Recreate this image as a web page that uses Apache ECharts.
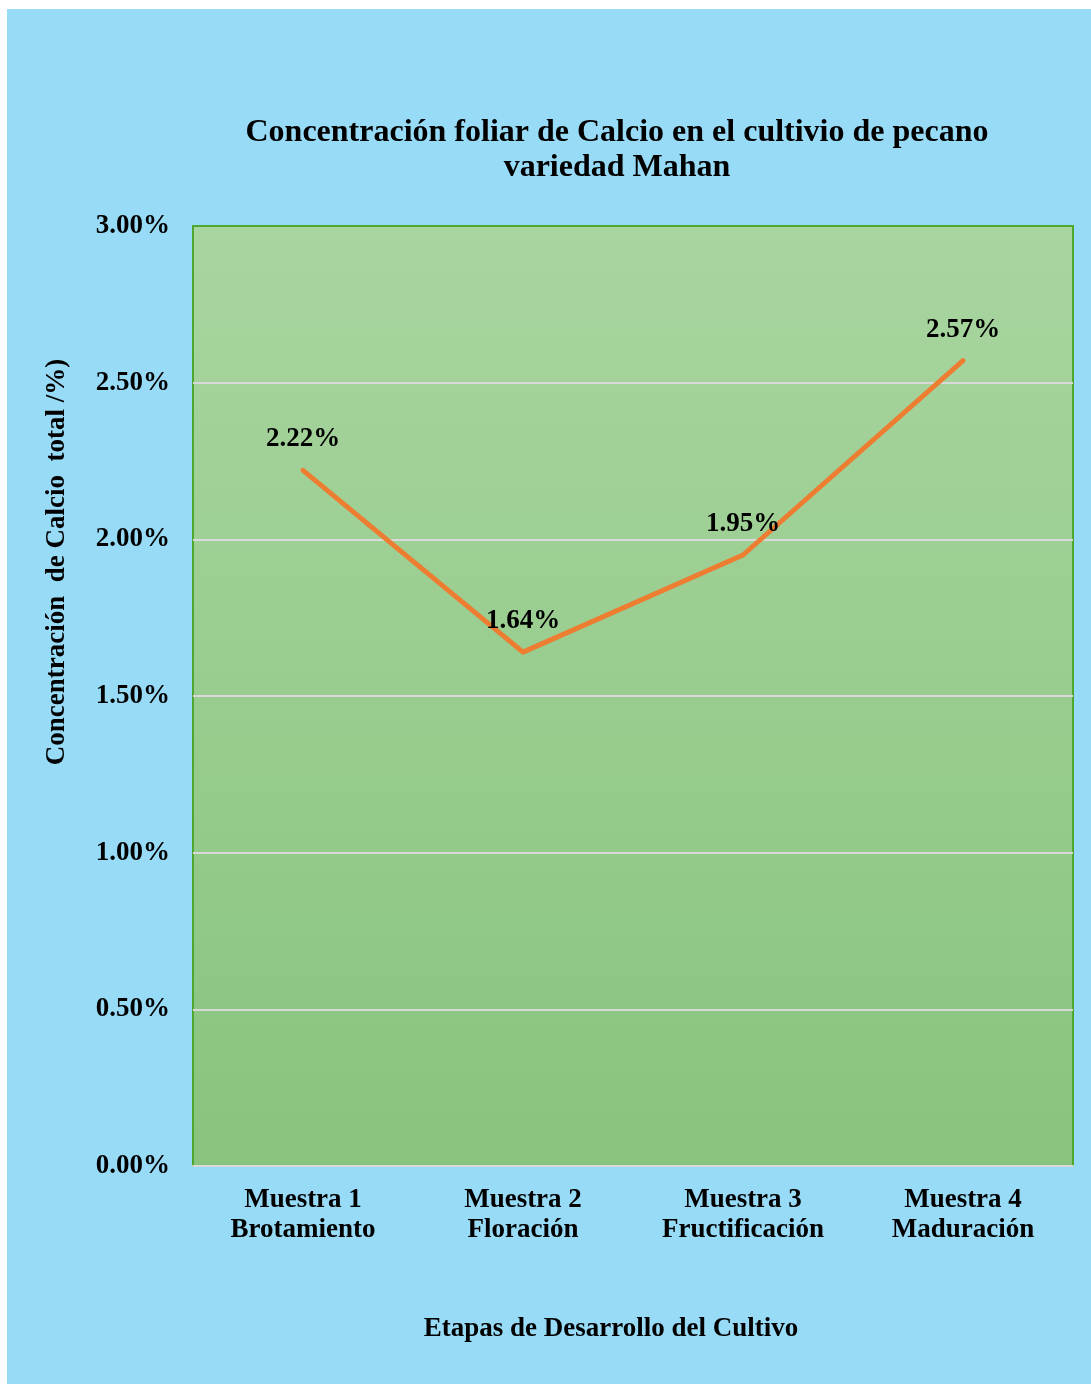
<!DOCTYPE html>
<html>
<head>
<meta charset="utf-8">
<script src="https://cdn.jsdelivr.net/npm/echarts@6/dist/echarts.min.js"></script>
<style>
  html, body { margin: 0; padding: 0; background: #ffffff; }
  #frame { position: absolute; left: 7px; top: 9px; right: 0; bottom: 0; background: #97DBF7; }
  #chart { position: absolute; left: 0; top: 0; width: 1091px; height: 1384px; }
</style>
</head>
<body>
<div id="frame"></div>
<div id="chart"></div>
<script>
// Stages of the crop and foliar calcium concentration (%)
const categories = [
  'Muestra 1\nBrotamiento',
  'Muestra 2\nFloración',
  'Muestra 3\nFructificación',
  'Muestra 4\nMaduración'
];
const calcio = [2.22, 1.64, 1.95, 2.57];
const yTicks = [0, 0.5, 1, 1.5, 2, 2.5, 3];

const serif = '"Liberation Serif", "Times New Roman", serif';
const chart = echarts.init(document.getElementById('chart'), null, { renderer: 'canvas' });

chart.setOption({
  backgroundColor: 'transparent',
  animation: false,
  title: {
    text: 'Concentración foliar de Calcio en el cultivio de pecano\nvariedad Mahan',
    left: 612,
    top: 110,
    textAlign: 'center',
    textStyle: {
      fontFamily: serif, fontWeight: 'bold', fontSize: 32, color: '#000', lineHeight: 35
    }
  },
  grid: {
    left: 193, top: 226, width: 880, height: 940,
    show: true,
    borderColor: '#4EA72E',
    borderWidth: 2,
    backgroundColor: new echarts.graphic.LinearGradient(0, 0, 0, 1, [
      { offset: 0, color: '#A9D5A0' },
      { offset: 1, color: '#88C47D' }
    ])
  },
  xAxis: {
    type: 'category',
    data: categories,
    boundaryGap: true,
    name: 'Etapas de Desarrollo del Cultivo',
    nameLocation: 'middle',
    nameGap: 150,
    nameTextStyle: {
      fontFamily: serif, fontWeight: 'bold', fontSize: 27, color: '#000',
      padding: [0, 44, 0, 0]
    },
    axisLine: { show: true, lineStyle: { color: '#D9D9D9', width: 2 } },
    axisTick: { show: false },
    axisLabel: {
      fontFamily: serif, fontWeight: 'bold', fontSize: 27, color: '#000',
      lineHeight: 30, margin: 19
    }
  },
  yAxis: {
    type: 'value',
    min: yTicks[0],
    max: yTicks[yTicks.length - 1],
    interval: 0.5,
    name: 'Concentración  de Calcio  total /%)',
    nameLocation: 'middle',
    nameGap: 122,
    nameRotate: 90,
    nameTextStyle: {
      fontFamily: serif, fontWeight: 'bold', fontSize: 27, color: '#000',
      padding: [0, 0, 0, 268]
    },
    axisLine: { show: false },
    axisTick: { show: false },
    splitLine: { showMaxLine: false, lineStyle: { color: '#D9D9D9', width: 2 } },
    axisLabel: {
      fontFamily: serif, fontWeight: 'bold', fontSize: 27, color: '#000', margin: 23,
      formatter: v => v.toFixed(2) + '%'
    }
  },
  series: [{
    type: 'line',
    data: calcio,
    symbol: 'circle',
    symbolSize: 1,
    showSymbol: true,
    itemStyle: { color: 'rgba(0,0,0,0)' },
    lineStyle: { color: '#ED7D31', width: 5, cap: 'round', join: 'round' },
    z: 3,
    label: {
      show: true,
      position: 'top',
      distance: 17,
      fontFamily: serif, fontWeight: 'bold', fontSize: 27, color: '#000',
      formatter: p => p.value.toFixed(2) + '%'
    },
    labelLayout: { hideOverlap: false },
    emphasis: { disabled: true }
  }]
});
</script>
</body>
</html>
